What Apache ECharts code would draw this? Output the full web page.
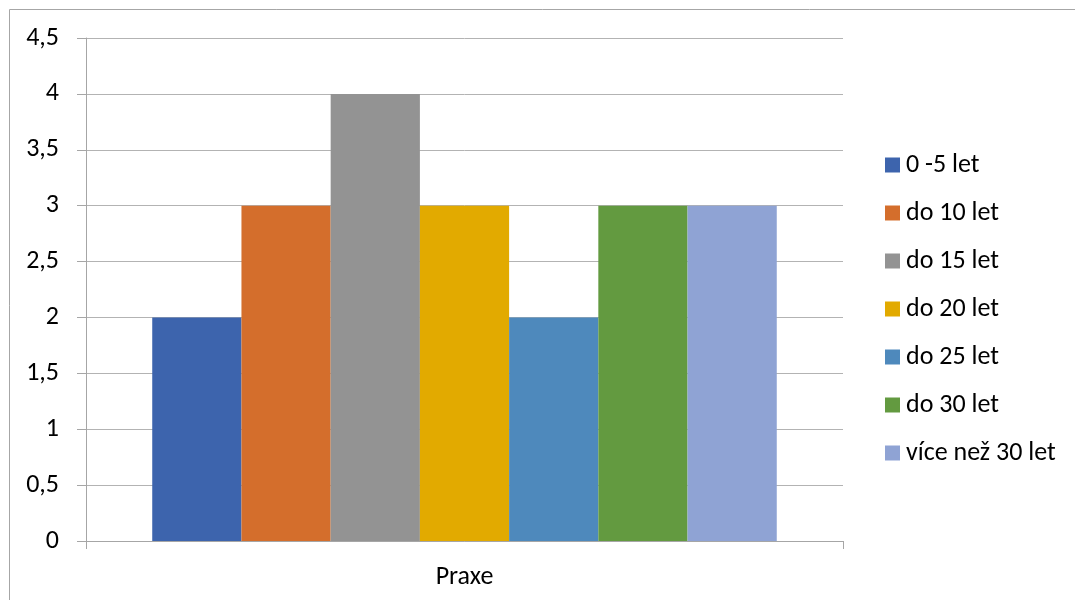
<!DOCTYPE html>
<html>
<head>
<meta charset="utf-8">
<script src="https://cdn.jsdelivr.net/npm/echarts@6/dist/echarts.min.js"></script>
<style>
  html, body { margin: 0; padding: 0; background: #fff; }
  #chart { width: 1075px; height: 600px; }
</style>
</head>
<body>
<div id="chart"></div>
<script>
// data
var categories = ['Praxe'];
var seriesNames = ['0 -5 let', 'do 10 let', 'do 15 let', 'do 20 let', 'do 25 let', 'do 30 let', 'více než 30 let'];
var seriesValues = [2, 3, 4, 3, 2, 3, 3];
var colors = ['#3D64AD', '#D46E2C', '#939393', '#E2AA00', '#4E89BC', '#639A40', '#8FA3D4'];

var font = 'Carlito, "Open Sans", "Noto Sans", sans-serif';

var series = [];
for (var i = 0; i < seriesNames.length; i++) {
  series.push({
    name: seriesNames[i],
    type: 'bar',
    data: [seriesValues[i]],
    itemStyle: { color: colors[i] },
    barGap: '0%',
    barCategoryGap: '17.5%'
  });
}

var chart = echarts.init(document.getElementById('chart'));
chart.setOption({
  animation: false,
  graphic: [{
    type: 'rect',
    shape: { x: 9.5, y: 9.5, width: 1100, height: 700 },
    style: { fill: 'none', stroke: '#a6a6a6', lineWidth: 1 }
  }],
  grid: { left: 86, right: 232, top: 38, bottom: 59 },
  legend: {
    orient: 'vertical',
    left: 885,
    top: 152,
    padding: 0,
    itemWidth: 15,
    itemHeight: 15,
    itemGap: 22,
    icon: 'rect',
    textStyle: { fontSize: 26, lineHeight: 26, color: '#000', fontFamily: font, padding: [0, 0, 0, 1] },
    data: seriesNames
  },
  xAxis: {
    type: 'category',
    data: categories,
    axisLine: { lineStyle: { color: '#a6a6a6', width: 1 } },
    axisTick: { show: true, length: 8, lineStyle: { color: '#a6a6a6' } },
    axisLabel: { fontSize: 26, color: '#000', fontFamily: font, margin: 23 }
  },
  yAxis: {
    type: 'value',
    min: 0,
    max: 4.5,
    interval: 0.5,
    axisLine: { show: true, lineStyle: { color: '#a6a6a6', width: 1 } },
    axisTick: { show: true, length: 9, lineStyle: { color: '#a6a6a6' } },
    splitLine: { lineStyle: { color: '#b3b3b3', width: 1 } },
    axisLabel: {
      fontSize: 26, color: '#000', fontFamily: font, margin: 27,
      formatter: function (v) { return String(v).replace('.', ','); }
    }
  },
  series: series
});
</script>
</body>
</html>
